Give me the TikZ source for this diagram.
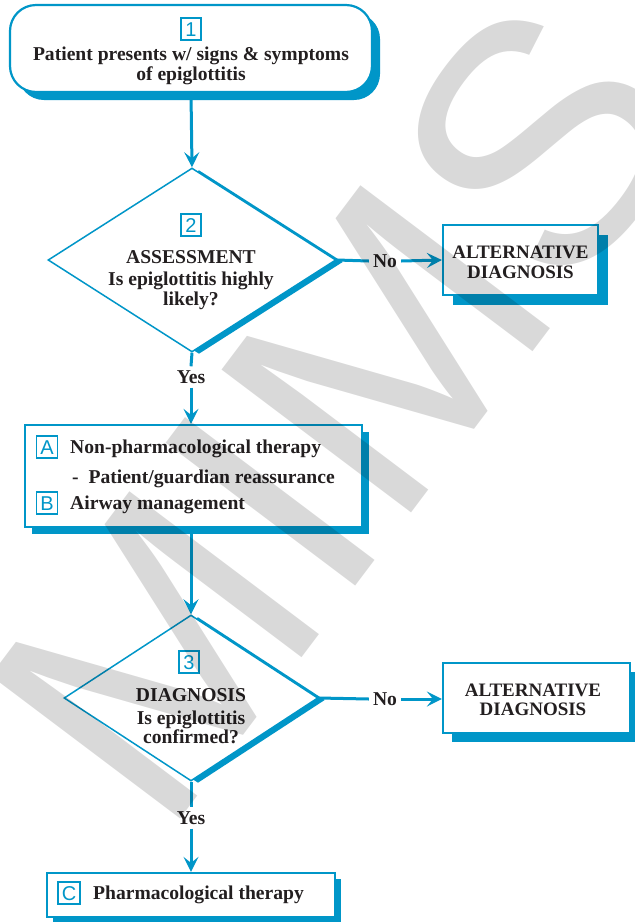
\documentclass[tikz,border=0pt]{standalone}
\usepackage{fontspec}
\setmainfont{Liberation Serif}
\setsansfont{Liberation Sans}
\usetikzlibrary{shapes.geometric,shadows,arrows.meta,positioning}
\definecolor{mimsblue}{RGB}{0,150,200}
\definecolor{inkgray}{RGB}{35,31,32}

\begin{document}
\begin{tikzpicture}[x=1pt,y=-1pt,
    flowbox/.style={draw=mimsblue,line width=2.2pt,fill=white,inner sep=0pt,
      drop shadow={shadow xshift=#1,shadow yshift=-#1,fill=mimsblue,opacity=1}},
    flowbox/.default=8pt,
    decision/.style={diamond,draw=mimsblue,line width=1.5pt,fill=white,inner sep=0pt,
      drop shadow={shadow xshift=7pt,shadow yshift=-2pt,fill=mimsblue,opacity=1}},
    flowtxt/.style={font=\bfseries\fontsize{19.6}{19.5}\selectfont,text=inkgray,align=center,inner sep=0pt},
    alttxt/.style={flowtxt,font=\bfseries\fontsize{19}{19.5}\selectfont},
    answer/.style={flowtxt,inner sep=4pt},
    numbox/.style={draw=mimsblue,line width=1.6pt,text=mimsblue,font=\sffamily\fontsize{20}{20}\selectfont,
      inner xsep=4pt,inner ysep=0pt,minimum width=20pt,minimum height=22pt,text height=14.3pt,text depth=0pt},
    flow/.style={line width=3pt,draw=mimsblue},
    flowarrow/.style={flow,-{Stealth[length=15pt,width=15pt,inset=6pt]}}
  ]
  \path[use as bounding box,fill=white] (0,0) rectangle (635,922);

  % boxes
  \node[flowbox,rounded corners=26pt,minimum width=362pt,minimum height=87pt] (start) at (191,48.5) {};
  \node[decision,minimum width=288pt,minimum height=184pt] (assess) at (192,260) {};
  \node[flowbox=10pt,minimum width=155pt,minimum height=70pt] (alt1) at (520.5,260) {};
  \node[flowbox=7pt,minimum width=337pt,minimum height=102pt] (ab) at (193.5,476) {};
  \node[decision,minimum width=254pt,minimum height=166pt] (diag) at (191,698) {};
  \node[flowbox=9pt,minimum width=187pt,minimum height=70pt] (alt2) at (536.5,698) {};
  \node[flowbox=6pt,minimum width=288pt,minimum height=44pt] (pharm) at (191,895) {};

  % texts
  \node[numbox] (n1) at (191,29) {1};
  \node[flowtxt] (t1) at (191,66) {Patient presents w/ signs \& symptoms\\of epiglottitis};
  \node[numbox] (n2) at (191,225) {2};
  \node[flowtxt] (t2a) at (191,257) {ASSESSMENT};
  \node[flowtxt] (t2b) at (191,291) {Is epiglottitis highly\\likely?};
  \node[alttxt] (t2c) at (520.5,262.5) {ALTERNATIVE\\DIAGNOSIS};
  \node[answer] (no1) at (385,261) {No};
  \node[answer] (yes1) at (191,377) {Yes};
  \node[numbox] (nA) at (47,447) {A};
  \node[flowtxt,anchor=base west] (tA) at (70,453) {Non-pharmacological therapy};
  \node[flowtxt,anchor=base west] (tA2) at (72,483) {-\ \ Patient/guardian reassurance};
  \node[numbox] (nB) at (47,503) {B};
  \node[flowtxt,anchor=base west] (tB) at (70,509) {Airway management};
  \node[numbox] (n3) at (189,662) {3};
  \node[flowtxt] (t3a) at (191,695) {DIAGNOSIS};
  \node[flowtxt] (t3b) at (191,727.5) {Is epiglottitis\\confirmed?};
  \node[answer] (no2) at (385,699) {No};
  \node[alttxt] (t3c) at (533,700) {ALTERNATIVE\\DIAGNOSIS};
  \node[answer] (yes2) at (191,818) {Yes};
  \node[numbox] (nC) at (69,893) {C};
  \node[flowtxt,anchor=base west] (tC) at (93,899) {Pharmacological therapy};

  % connectors
  \draw[flowarrow] (start.south) -- (assess.north);
  \draw[flow] (assess.east) -- (no1.west);
  \draw[flowarrow] (no1.east) -- (alt1.west);
  \draw[flow] (assess.south) -- (yes1.north);
  \draw[flowarrow] (yes1.south) -- (yes1.south |- ab.north);
  \draw[flowarrow] (ab.south -| diag.north) -- (diag.north);
  \draw[flow] (diag.east) -- (no2.west);
  \draw[flowarrow] (no2.east) -- (no2.east -| alt2.west);
  \draw[flow] (diag.south) -- (yes2.north);
  \draw[flowarrow] (yes2.south) -- (pharm.north);

  % watermark
  \node[text=black,text opacity=0.15,font=\sffamily\fontsize{345}{345}\selectfont,
    rotate=53,inner sep=0pt] (mark) at (340,410) {MIMS};
\end{tikzpicture}
\end{document}
